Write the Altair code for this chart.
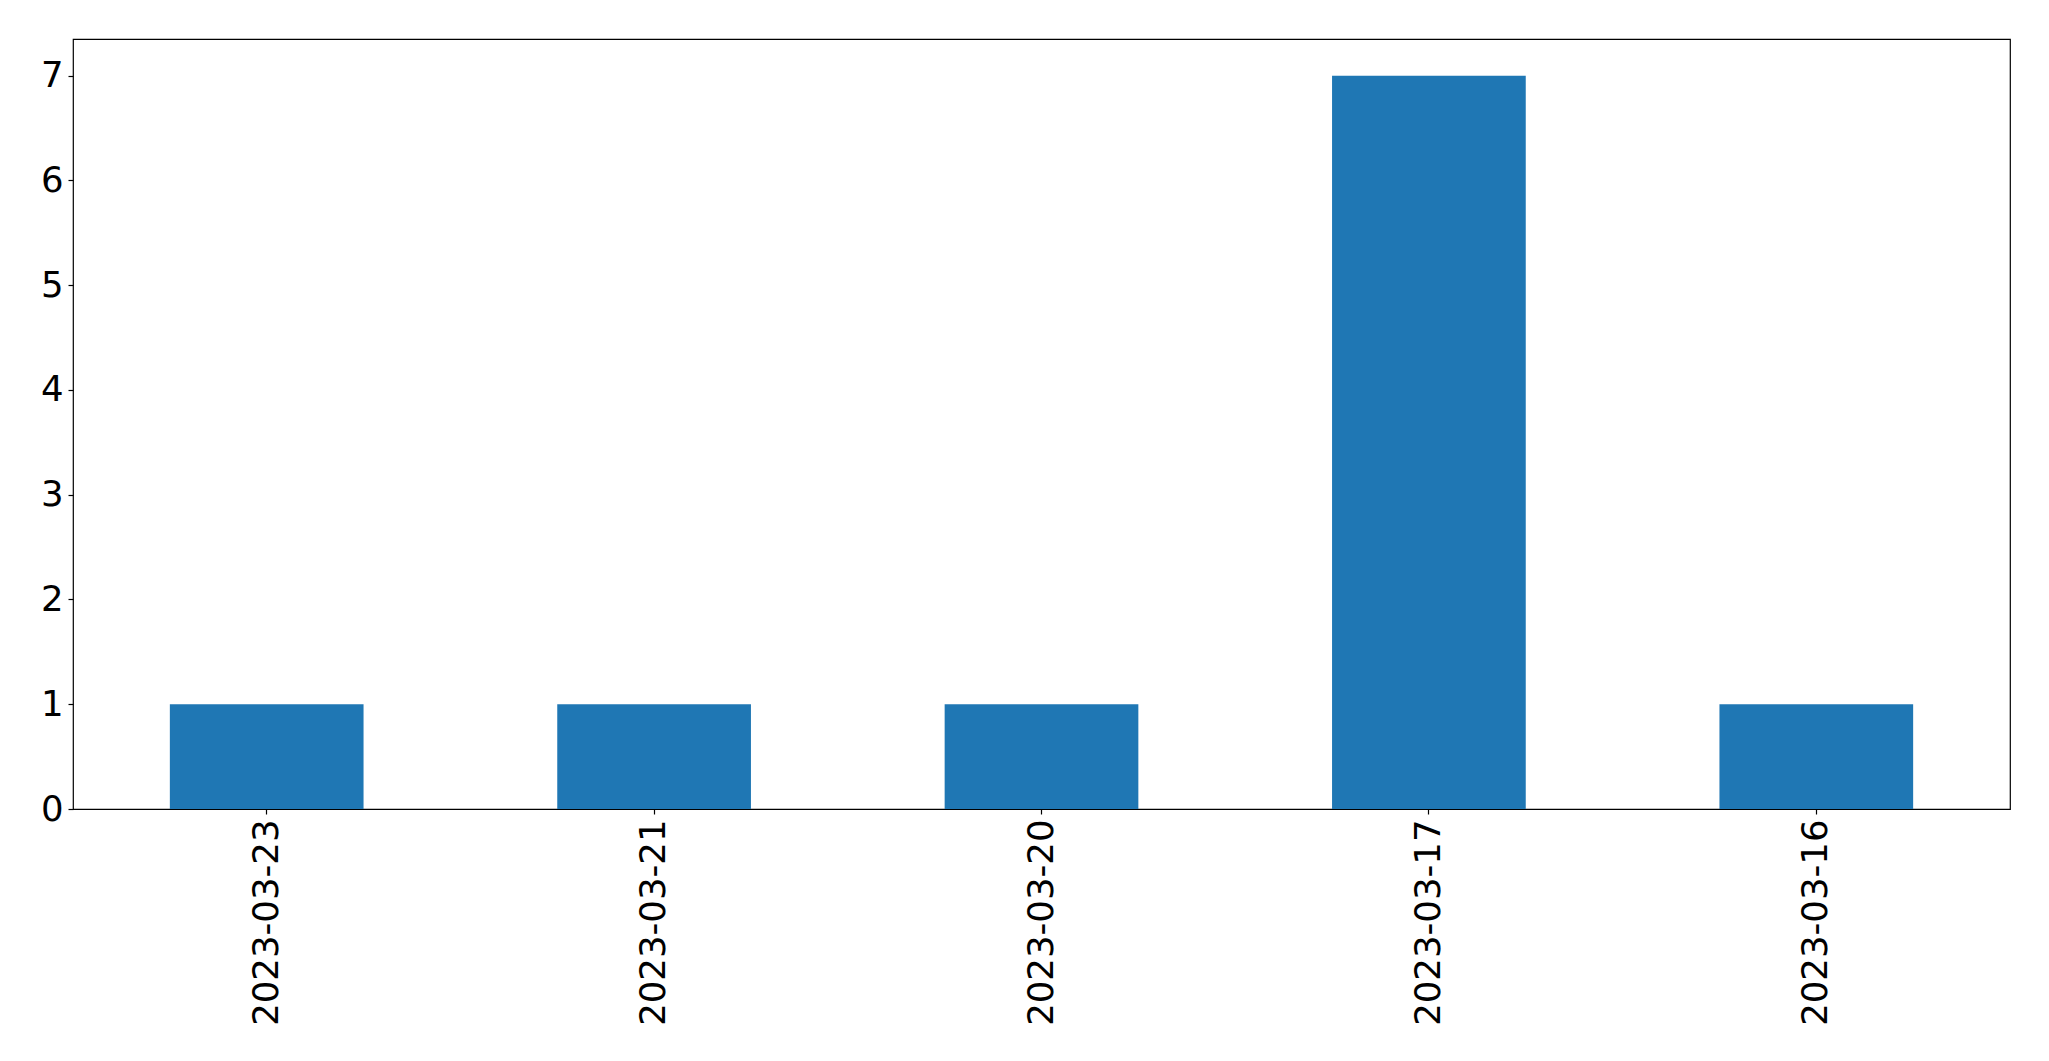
import altair as alt
import pandas as pd

dates = ["2023-03-23", "2023-03-21", "2023-03-20", "2023-03-17", "2023-03-16"]
counts = [1, 1, 1, 7, 1]

df = pd.DataFrame({"date": dates, "count": counts})

FONT = "DejaVu Sans"

chart = alt.Chart(df).mark_bar(color="#1f77b4").encode(
    x=alt.X(
        "date:N",
        sort=dates,
        title=None,
        scale=alt.Scale(paddingInner=0.5, paddingOuter=0.25),
        axis=alt.Axis(
            labelAngle=270,
            labelAlign="right",
            labelBaseline="middle",
            labelFontSize=35.5,
            labelFont=FONT,
            labelColor="black",
            labelLimit=0,
            tickSize=5,
            tickColor="black",
            tickWidth=1.2,
            labelPadding=5,
            domain=False,
            grid=False,
        ),
    ),
    y=alt.Y(
        "count:Q",
        title=None,
        scale=alt.Scale(domain=[0, 7.35], nice=False),
        axis=alt.Axis(
            values=[0, 1, 2, 3, 4, 5, 6, 7],
            labelFontSize=35.5,
            labelFont=FONT,
            labelColor="black",
            tickSize=5,
            tickColor="black",
            tickWidth=1.2,
            labelPadding=5,
            domain=False,
            grid=False,
        ),
    ),
).properties(
    width=1937,
    height=770,
    autosize=alt.AutoSizeParams(type="none"),
    padding={"left": 65, "top": 31, "right": 30, "bottom": 240},
).configure(
    background="white",
    view=alt.ViewConfig(stroke="black", strokeWidth=1.2),
)

chart.save("out.html", embed_options={"renderer": "svg", "actions": False})
